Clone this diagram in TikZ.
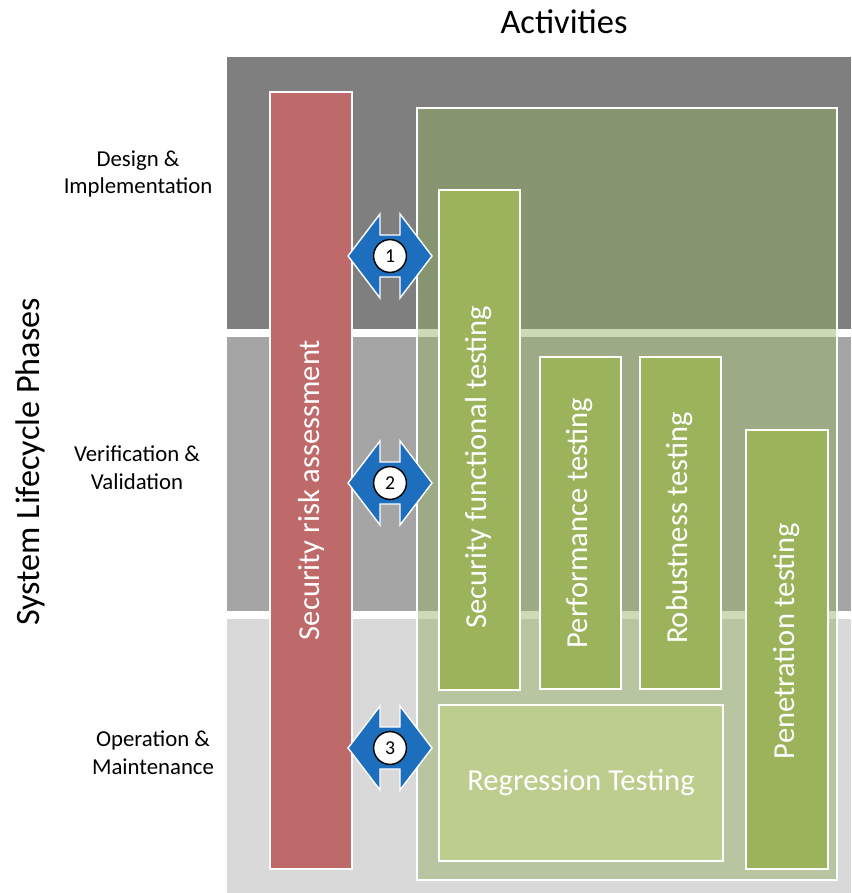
\documentclass[tikz,border=0pt]{standalone}
\usepackage{fontspec}
\setmainfont{Carlito}
\definecolor{bandA}{RGB}{127,127,127}
\definecolor{bandB}{RGB}{165,165,165}
\definecolor{bandC}{RGB}{217,217,217}
\definecolor{riskred}{RGB}{190,105,106}
\definecolor{testgreen}{RGB}{155,179,91}
\definecolor{regrgreen}{RGB}{189,205,142}
\definecolor{boxgreen}{RGB}{146,176,99}
\definecolor{arrowblue}{RGB}{30,110,190}
\tikzset{
  phase/.style={align=center, font=\fontsize{16.2}{19.8}\selectfont},
  barlabel/.style={rotate=90, text=white, font=\fontsize{21.7}{26}\selectfont},
  barbox/.style={draw=white, line width=1.2pt},
}

\begin{document}
\begin{tikzpicture}[x=0.025cm, y=-0.025cm]
    \useasboundingbox (0,0) rectangle (851,893);
    % Phase bands
    \fill[bandA] (227,57) rectangle (851,329);
    \fill[bandB] (227,337) rectangle (851,611);
    \fill[bandC] (227,619) rectangle (851,893);
    \foreach \x/\y/\l [count=\i] in {138/174/{Design \&\\Implementation}, 137/468/{Verification \&\\Validation}, 153/753/{Operation \&\\Maintenance}} \node[phase] (ph\i) at (\x,\y) {\l};
    \node[rotate=90, font=\fontsize{24.3}{29}\selectfont] (phases) at (30,462) {System Lifecycle Phases};
    \node[font=\fontsize{24.5}{29}\selectfont] (acts) at (564,22) {Activities};
    % Risk assessment
    \filldraw[barbox, fill=riskred] (270,92) rectangle (352,869);
    % Activities box
    \filldraw[barbox, fill=boxgreen, fill opacity=0.47] (417,108) rectangle (837,880);
    % Test bars
    \foreach \xa/\ya/\xb/\yb in {439/190/520/690, 540/357/621/689, 640/357/721/689, 746/430/828/869} \filldraw[barbox, fill=testgreen] (\xa,\ya) rectangle (\xb,\yb);
    \filldraw[barbox, fill=regrgreen] (439,705) rectangle (723,861);
    % Labels
    \node[barlabel] (risk) at (311,490) {Security risk assessment};
    \node[barlabel] (func) at (479,467) {Security functional testing};
    \node[barlabel] (perf) at (580,523) {Performance testing};
    \node[barlabel] (robu) at (680,528) {Robustness testing};
    \node[barlabel] (pene) at (787,641) {Penetration testing};
    \node[text=white, font=\fontsize{21.7}{26}\selectfont] (regr) at (581,783) {Regression Testing};
    % Links between assessment and testing
    \foreach \y [count=\i] in {256,483,748} {
      \filldraw[fill=arrowblue, draw=white, line width=1pt] (348,\y) -- (380,\y-42) -- (380,\y-21) -- (400,\y-21) -- (400,\y-42) -- (432,\y) -- (400,\y+42) -- (400,\y+21) -- (380,\y+21) -- (380,\y+42) -- cycle;
      \node[draw, fill=white, circle, line width=1pt, minimum size=0.82cm, inner sep=0pt, font=\fontsize{14}{16}\selectfont] (n\i) at (390,\y) {\i};
    }
\end{tikzpicture}
\end{document}
